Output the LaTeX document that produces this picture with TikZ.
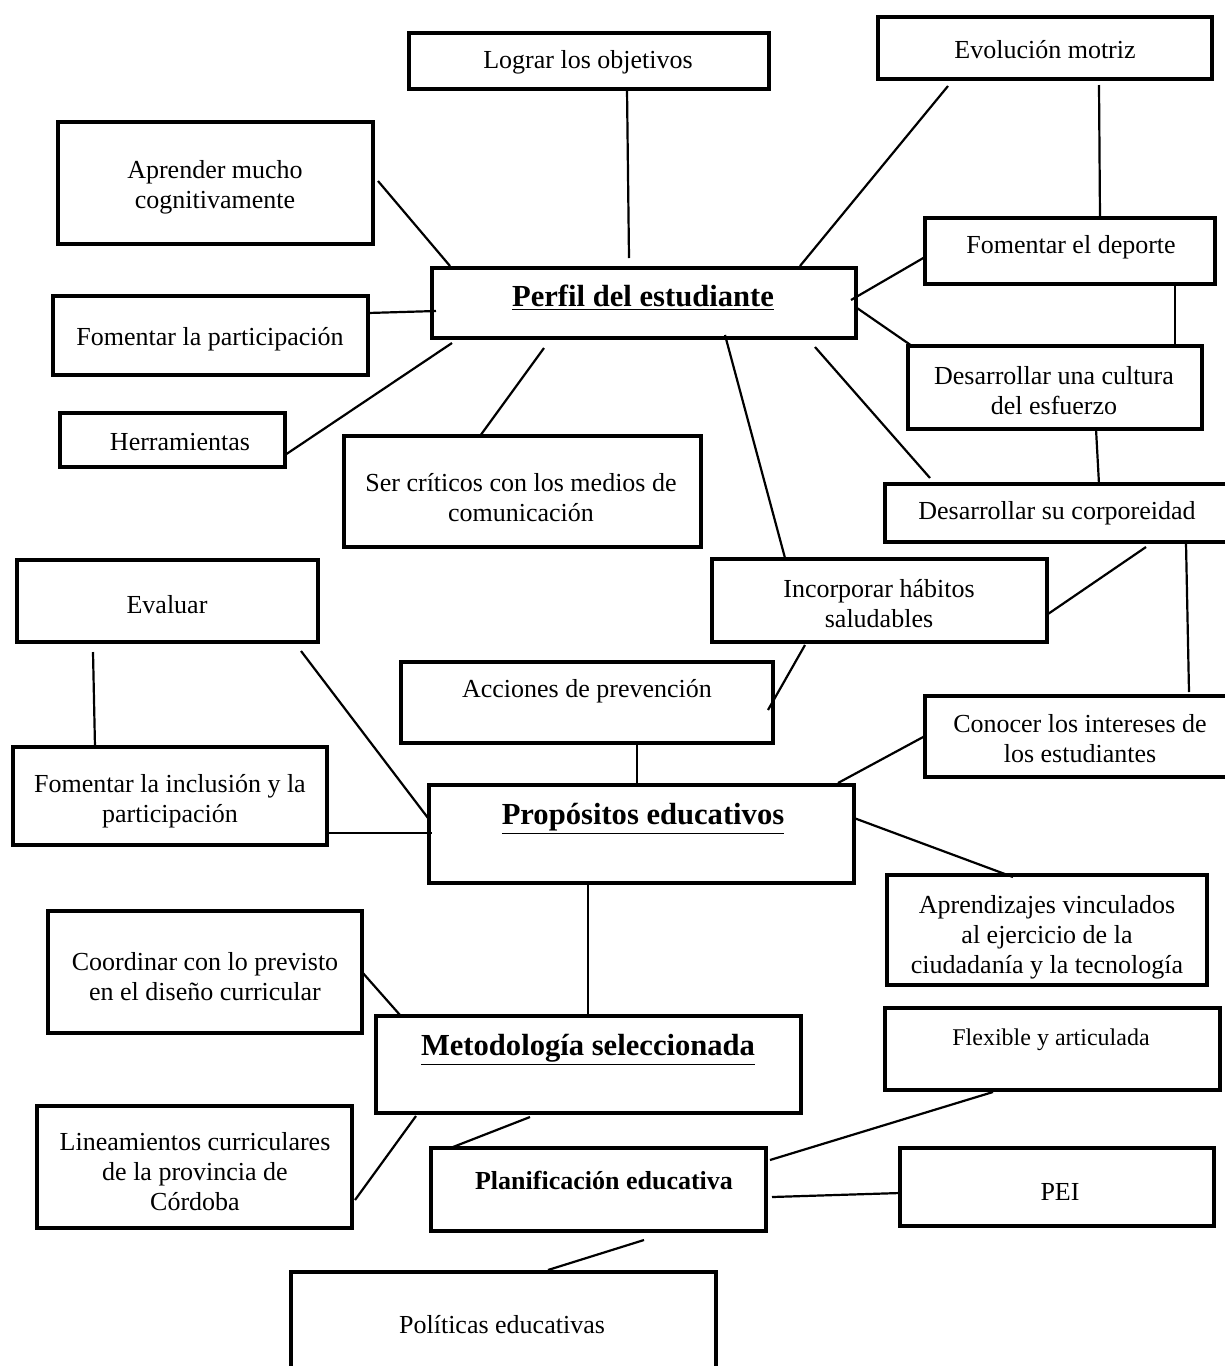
\documentclass[tikz,border=0pt]{standalone}
\usepackage{fontspec}
\setmainfont{Liberation Serif}
\usetikzlibrary{calc,fit}
\begin{document}
\begin{tikzpicture}[x=0.5pt,y=-0.5pt,
  box/.style={draw, line width=2.3pt, inner sep=0pt, outer sep=0pt},
  txt/.style={font=\fontsize{13}{15}\selectfont, align=center, inner sep=0pt, yshift=-1pt},
  ttl/.style={font=\fontsize{15.3}{18}\selectfont\bfseries, inner sep=0pt, yshift=-0.5pt},
  link/.style={line width=1.1pt}]
\useasboundingbox (0,0) rectangle (1225,1366);

% frames
\node[box, fit={(409,33)(769,89)}]    (lograr) {};
\node[box, fit={(878,17)(1212,79)}]   (evol)   {};
\node[box, fit={(58,122)(373,244)}]   (apr)    {};
\node[box, fit={(432,268)(856,338)}]  (perfil) {};
\node[box, fit={(925,218)(1215,284)}] (depor)  {};
\node[box, fit={(53,296)(368,375)}]   (fpart)  {};
\node[box, fit={(908,346)(1202,429)}] (cult)   {};
\node[box, fit={(60,413)(285,467)}]   (herr)   {};
\node[box, fit={(344,436)(701,547)}]  (crit)   {};
\node[box, fit={(885,484)(1232,542)}] (corp)   {};
\node[box, fit={(17,560)(318,642)}]   (eval)   {};
\node[box, fit={(712,559)(1047,642)}] (inc)    {};
\node[box, fit={(401,662)(773,743)}]  (acc)    {};
\node[box, fit={(925,696)(1232,777)}] (conoc)  {};
\node[box, fit={(13,747)(327,845)}]   (finc)   {};
\node[box, fit={(429,785)(854,883)}]  (prop)   {};
\node[box, fit={(887,875)(1207,985)}] (aprend) {};
\node[box, fit={(48,911)(362,1033)}]  (coord)  {};
\node[box, fit={(376,1016)(801,1113)}] (met)   {};
\node[box, fit={(885,1008)(1220,1090)}] (flex) {};
\node[box, fit={(37,1106)(352,1228)}] (lin)    {};
\node[box, fit={(431,1148)(766,1231)}] (plan)  {};
\node[box, fit={(900,1148)(1214,1226)}] (pei)  {};
\node[box, fit={(291,1272)(716,1380)}] (pol)   {};

% texts
\node[txt] (t-lograr) at (588,60)   {Lograr los objetivos};
\node[txt] (t-evol)   at (1045,48)  {Evolución motriz};
\node[txt] (t-apr)    at (215,185)  {Aprender mucho\\cognitivamente};
\node[ttl] (t-perfil) at (643,297)  {\underline{Perfil del estudiante}};
\node[txt] (t-depor)  at (1071,245) {Fomentar el deporte};
\node[txt] (t-fpart)  at (210,337)  {Fomentar la participación};
\node[txt] (t-cult)   at (1054,389) {Desarrollar una cultura\\del esfuerzo};
\node[txt] (t-herr)   at (180,440)  {Herramientas};
\node[txt] (t-crit)   at (521,496)  {Ser críticos con los medios de\\comunicación};
\node[txt] (t-corp)   at (1057,511) {Desarrollar su corporeidad};
\node[txt] (t-eval)   at (167,603)  {Evaluar};
\node[txt] (t-inc)    at (879,602)  {Incorporar hábitos\\saludables};
\node[txt] (t-acc)    at (587,689)  {Acciones de prevención};
\node[txt] (t-conoc)  at (1080,737) {Conocer los intereses de\\los estudiantes};
\node[txt] (t-finc)   at (170,799)  {Fomentar la inclusión y la\\participación};
\node[ttl] (t-prop)   at (643,818)  {\underline{Propósitos educativos}};
\node[txt] (t-aprend) at (1047,935) {Aprendizajes vinculados\\al ejercicio de la\\ciudadanía y la tecnología};
\node[txt] (t-coord)  at (205,975)  {Coordinar con lo previsto\\en el diseño curricular};
\node[ttl] (t-met)    at (588,1049) {\underline{Metodología seleccionada}};
\node[txt, font=\fontsize{12}{14}\selectfont] (t-flex) at (1051,1038) {Flexible y articulada};
\node[txt] (t-lin)    at (195,1170) {Lineamientos curriculares\\de la provincia de\\Córdoba};
\node[txt, font=\fontsize{13}{15}\selectfont\bfseries] (t-plan) at (604,1178) {Planificación educativa};
\node[txt] (t-pei)    at (1060,1190) {PEI};
\node[txt] (t-pol)    at (502,1323) {Políticas educativas};

% connectors
\draw[link] ($(lograr.south)+(38,0)$) -- ($(perfil.north)+(-15,-10)$);
\draw[link] ($(apr.east)+(5,-2)$) -- ($(perfil.north west)+(18,-2)$);
\draw[link] ($(evol.south)+(-97,7)$) -- ($(perfil.north east)+(-56,-2)$);
\draw[link] ($(evol.south)+(54,6)$) -- ($(depor.north)+(30,0)$);
\draw[link] ($(depor.west)+(0,6)$) -- ($(perfil.east)+(-5,-3)$);
\draw[link] ($(perfil.east)+(1,5)$) -- ($(cult.north west)+(4,0)$);
\draw[link] ($(depor.south)+(105,0)$) -- ($(cult.north)+(120,0)$);
\draw[link] ($(fpart.east)+(0,-22.5)$) -- ($(perfil.west)+(4,8)$);
\draw[link] ($(herr.east)+(0,15)$) -- ($(perfil.south west)+(20,5)$);
\draw[link] ($(crit.north)+(-42.5,0)$) -- ($(perfil.south)+(-100,10)$);
\draw[link] ($(perfil.south)+(81,-3)$) -- ($(inc.north)+(-94.5,-1)$);
\draw[link] ($(perfil.south)+(171,9)$) -- ($(corp.north west)+(45,-6)$);
\draw[link] ($(cult.south)+(41,0)$) -- ($(corp.north)+(40.5,0)$);
\draw[link] ($(corp.south)+(87.5,5)$) -- ($(inc.east)+(1,13.5)$);
\draw[link] ($(corp.south)+(127.5,1)$) -- ($(conoc.north)+(110.5,-4)$);
\draw[link] ($(inc.south)+(-74.5,3)$) -- ($(acc.east)+(-5,7.5)$);
\draw[link] ($(acc.south)+(50,0)$) -- ($(prop.north)+(-4.5,0)$);
\draw[link] ($(eval.south)+(-74.5,10)$) -- ($(finc.north)+(-75,0)$);
\draw[link] ($(eval.south east)+(-17,9)$) -- ($(prop.west)+(-1,-16)$);
\draw[link] ($(finc.east)+(0,37)$) -- ($(prop.west)+(3,-1)$);
\draw[link] ($(conoc.west)+(0,-0.5)$) -- ($(prop.north east)+(-16,-2)$);
\draw[link] ($(prop.east)+(0,-16)$) -- ($(aprend.north)+(-34,2)$);
\draw[link] ($(prop.south)+(-53.5,0)$) -- ($(met.north)+(-0.5,0)$);
\draw[link] (coord.east) -- ($(met.north west)+(24,-1)$);
\draw[link] ($(met.south)+(-58.5,4)$) -- ($(plan.north west)+(22,-1)$);
\draw[link] ($(lin.east)+(3,33)$) -- ($(met.south west)+(40,3)$);
\draw[link] ($(flex.south)+(-59.5,2)$) -- ($(plan.north east)+(4,12)$);
\draw[link] ($(pei.west)+(0,6)$) -- ($(plan.east)+(6,7.5)$);
\draw[link] ($(plan.south)+(45.5,9)$) -- ($(pol.north)+(44.5,-2)$);
\end{tikzpicture}
\end{document}
